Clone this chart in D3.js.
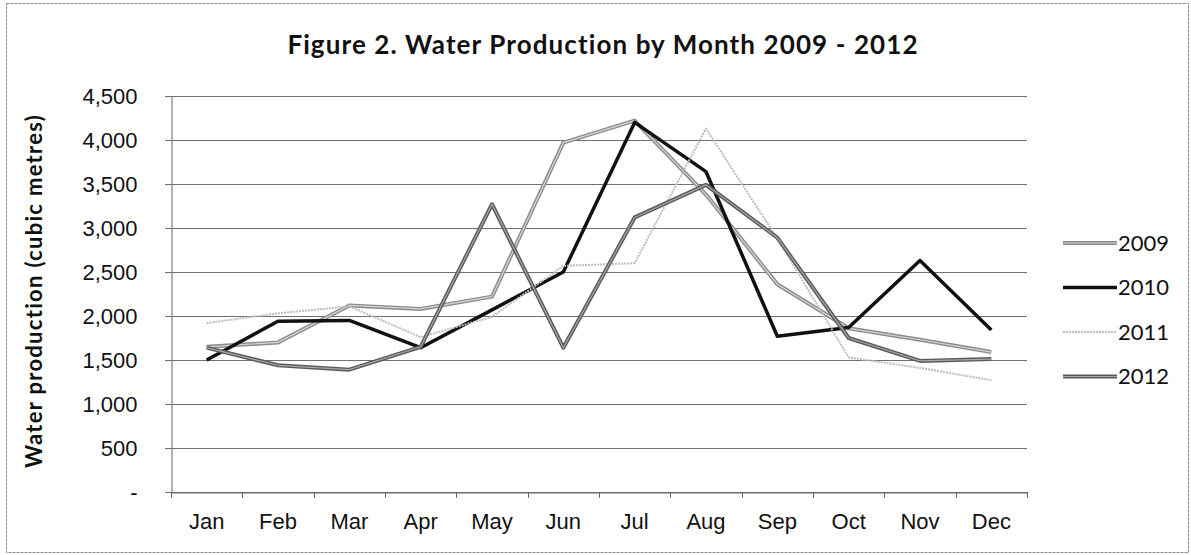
<!DOCTYPE html>
<html>
<head>
<meta charset="utf-8">
<script src="https://cdn.jsdelivr.net/npm/d3@7"></script>
<style>
  body { margin: 0; background: #fff; }
  svg { display: block; font-family: Lato, "Open Sans", sans-serif; }
</style>
</head>
<body>
<div id="chart"></div>
<script>
var months = ["Jan","Feb","Mar","Apr","May","Jun","Jul","Aug","Sep","Oct","Nov","Dec"];
var years = ["2009","2010","2011","2012"];
var w2009 = [1650,1700,2120,2080,2220,3970,4220,3380,2360,1860,1730,1590];
var w2010 = [1500,1940,1950,1640,2070,2500,4200,3640,1770,1870,2630,1840];
var w2011 = [1920,2030,2110,1760,1990,2570,2600,4130,2880,1530,1410,1270];
var w2012 = [1640,1440,1390,1650,3270,1640,3120,3490,2890,1750,1490,1510];
var yTicks = [0,500,1000,1500,2000,2500,3000,3500,4000,4500];

var width = 1191, height = 555;
var margin = {left: 171, top: 96, right: 161, bottom: 63};

// one style per year, outer stroke + optional light core to mimic the scanned print
var styles = {
  "2009": {color: "#8c8c8c", w: 4, core: "#d6d6d6", cw: 1.2},
  "2010": {color: "#111111", w: 3.5, core: null},
  "2011": {color: "#bdbdbd", w: 2, core: null, dash: "2,1"},
  "2012": {color: "#5a5a5a", w: 4, core: "#a8a8a8", cw: 1.2}
};

var series = [w2009, w2010, w2011, w2012].map(function(vals, i) {
  return {year: years[i], values: vals};
});

var svg = d3.select("#chart").append("svg")
  .attr("width", width)
  .attr("height", height);

// outer chart border
svg.append("rect")
  .attr("x", 6.5).attr("y", 3.5)
  .attr("width", 1182).attr("height", 549)
  .attr("fill", "none")
  .attr("stroke", "#888")
  .attr("stroke-dasharray", "3,1");

var x = d3.scaleBand()
  .domain(months)
  .range([margin.left, width - margin.right - 3]);

var y = d3.scaleLinear()
  .domain([0, 4500])
  .range([height - margin.bottom, margin.top]);

// gridlines
svg.append("g")
  .selectAll("line")
  .data(yTicks)
  .enter().append("line")
  .attr("x1", margin.left - 6)
  .attr("x2", x.range()[1])
  .attr("y1", d => Math.round(y(d)) + 0.5)
  .attr("y2", d => Math.round(y(d)) + 0.5)
  .attr("stroke", "#707070")
  .attr("stroke-width", 1);

// y axis
var yAxis = d3.axisLeft(y)
  .tickValues(yTicks)
  .tickSize(0)
  .tickPadding(34)
  .tickFormat(d => d === 0 ? "-" : d3.format(",")(d));

svg.append("g")
  .attr("transform", "translate(" + (margin.left + 0.5) + ",0)")
  .call(yAxis)
  .call(g => g.select(".domain").attr("stroke", "#666"))
  .call(g => g.selectAll("text")
    .attr("font-size", 22)
    .attr("fill", "#111"));

// x axis
var xAxis = d3.axisBottom(x).tickSize(0).tickPadding(21);
var xg = svg.append("g")
  .attr("transform", "translate(0," + (y(0) + 0.5) + ")")
  .call(xAxis);
xg.select(".domain").attr("stroke", "#666");
xg.selectAll("text").attr("font-size", 22).attr("fill", "#111");

// x tick marks at band edges
svg.append("g")
  .selectAll("line")
  .data(months.concat(["end"]))
  .enter().append("line")
  .attr("x1", (d, i) => Math.round(x.range()[0] + i * x.step()) + 0.5)
  .attr("x2", (d, i) => Math.round(x.range()[0] + i * x.step()) + 0.5)
  .attr("y1", y(0))
  .attr("y2", y(0) + 6)
  .attr("stroke", "#666");

// lines
var line = d3.line()
  .x((d, i) => x(months[i]) + x.bandwidth() / 2)
  .y(d => y(d));

var lg = svg.append("g");
series.forEach(function(s) {
  var st = styles[s.year];
  lg.append("path")
    .attr("d", line(s.values))
    .attr("fill", "none")
    .attr("stroke", st.color)
    .attr("stroke-width", st.w)
    .attr("stroke-dasharray", st.dash || null)
    .attr("stroke-linejoin", "round");
  if (st.core) {
    lg.append("path")
      .attr("d", line(s.values))
      .attr("fill", "none")
      .attr("stroke", st.core)
      .attr("stroke-width", st.cw)
      .attr("stroke-linejoin", "round");
  }
});

// legend
var leg = svg.append("g")
  .selectAll("g")
  .data(series)
  .enter().append("g")
  .attr("transform", (d, i) => "translate(1063," + (243 + i * 44.5) + ")");

leg.append("line")
  .attr("x1", 0).attr("x2", 54)
  .attr("stroke", d => styles[d.year].color)
  .attr("stroke-width", d => styles[d.year].w)
  .attr("stroke-dasharray", d => styles[d.year].dash || null);
leg.filter(d => styles[d.year].core).append("line")
  .attr("x1", 0).attr("x2", 54)
  .attr("stroke", d => styles[d.year].core)
  .attr("stroke-width", d => styles[d.year].cw);
leg.append("text")
  .attr("x", 55)
  .attr("dy", "0.35em")
  .attr("font-size", 22)
  .attr("fill", "#111")
  .text(d => d.year);

// title
svg.append("text")
  .attr("x", 603)
  .attr("y", 54)
  .attr("text-anchor", "middle")
  .attr("font-size", 26)
  .attr("font-weight", "bold")
  .attr("letter-spacing", 1.1)
  .attr("fill", "#111")
  .text("Figure 2. Water Production by Month 2009 - 2012");

// y axis title
svg.append("text")
  .attr("transform", "translate(42,291) rotate(-90)")
  .attr("text-anchor", "middle")
  .attr("font-size", 22)
  .attr("font-weight", "bold")
  .attr("letter-spacing", 1.3)
  .attr("fill", "#111")
  .text("Water production (cubic metres)");
</script>
</body>
</html>
